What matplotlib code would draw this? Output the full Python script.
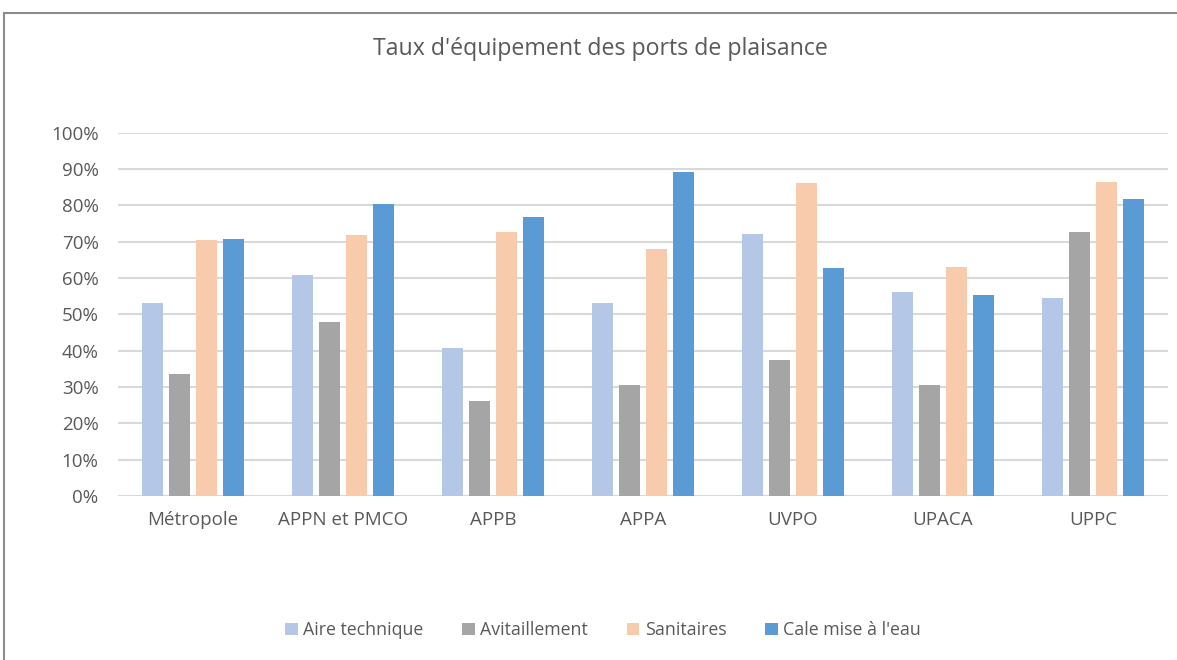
import numpy as np
import matplotlib.pyplot as plt
from matplotlib.ticker import PercentFormatter
from matplotlib.lines import Line2D

# données
categories = ['Métropole', 'APPN et PMCO', 'APPB', 'APPA', 'UVPO', 'UPACA', 'UPPC']
series_names = ['Aire technique', 'Avitaillement', 'Sanitaires', "Cale mise à l'eau"]
aire = [53.1, 60.8, 40.8, 53.1, 72.1, 56.2, 54.5]
avit = [33.5, 47.9, 26.0, 30.6, 37.4, 30.6, 72.5]
sanit = [70.4, 71.8, 72.5, 67.9, 86.0, 63.0, 86.3]
cale = [70.8, 80.2, 76.8, 89.1, 62.7, 55.3, 81.7]
colors = ['#B4C7E7', '#A5A5A5', '#F8CBAD', '#5B9BD5']

plt.rcParams['font.family'] = ['Open Sans', 'DejaVu Sans']
txt = '#595959'

fig = plt.figure(figsize=(11.77, 6.6), dpi=100)
# cadre gris autour du graphique
fig.add_artist(Line2D([4/1177, 4/1177], [0, 1 - 13/660], transform=fig.transFigure, color='#8c8c8c', lw=1.5))
fig.add_artist(Line2D([4/1177, 1], [1 - 13/660, 1 - 13/660], transform=fig.transFigure, color='#8c8c8c', lw=1.5))

ax = fig.add_axes([118/1177, 1 - 496/660, 1050/1177, (496 - 132.5)/660])
x = np.arange(len(categories))
width = 0.14
step = 0.18
for i, (vals, name) in enumerate(zip([aire, avit, sanit, cale], series_names)):
    ax.bar(x + (i - 1.5) * step, vals, width, color=colors[i], label=name, zorder=3)

ax.set_xlim(-0.5, len(categories) - 0.5)
ax.set_ylim(0, 100)
ax.set_yticks(np.arange(0, 101, 10))
ax.yaxis.set_major_formatter(PercentFormatter(decimals=0))
ax.set_xticks(x)
ax.set_xticklabels(categories)
ax.grid(axis='y', color='#D9D9D9', lw=1.5, zorder=0)
for s in ax.spines.values():
    s.set_visible(False)
ax.tick_params(axis='both', length=0, labelsize=13.5, colors=txt)
ax.tick_params(axis='y', pad=14)
ax.tick_params(axis='x', pad=11)

fig.text(600/1177, 1 - 49/660, "Taux d'équipement des ports de plaisance", ha='center', va='center',
         fontsize=16.7, color=txt)

fig.legend(loc='center', bbox_to_anchor=(603/1177, 1 - 630/660), ncol=4, frameon=False,
           fontsize=12.8, labelcolor=txt, handlelength=0.7, handleheight=0.7, handletextpad=0.3,
           columnspacing=2.2)

fig.savefig('out.png', dpi=100)
